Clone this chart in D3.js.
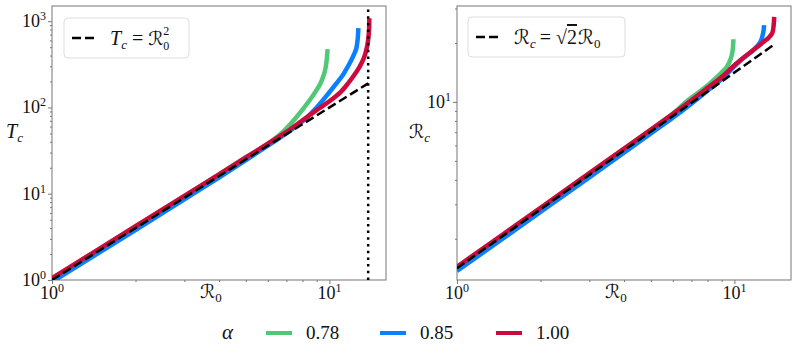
<!DOCTYPE html>
<html>
<head>
<meta charset="utf-8">
<script src="https://cdn.jsdelivr.net/npm/d3@7"></script>
<style>
  body { margin: 0; background: #fff; }
  text { font-family: "Liberation Serif", "DejaVu Serif", serif; fill: #111; }
</style>
</head>
<body>
<div id="chart"></div>
<script>
// values
const alphas = ["0.78", "0.85", "1.00"];
const colors = ["#50c878", "#0a80ff", "#cc0a3c"];

// left panel: T_c against R_0
const tR0_78 = [1, 2, 3, 4, 5, 5.7, 6.7, 7.6, 8.5, 9.0, 9.3, 9.55, 9.7, 9.8, 9.85];
const tVal_78 = [1.04, 4.15, 9.4, 16.8, 26.5, 34, 50, 77, 122, 160, 192, 240, 294, 380, 475];
const tR0_85 = [1, 2, 3, 4, 5, 6, 7, 8, 9, 10, 10.6, 11.2, 11.6, 12, 12.3, 12.5, 12.65, 12.72];
const tVal_85 = [0.95, 3.8, 8.6, 15.4, 24.5, 36, 50, 69, 100, 150, 190, 240, 290, 355, 420, 480, 620, 830];
const tR0_100 = [1, 2, 3, 4, 5, 6, 7, 8, 9, 10, 11, 11.6, 12.2, 12.8, 13.3, 13.6, 13.8, 13.9, 13.93];
const tVal_100 = [1.05, 4.2, 9.45, 16.8, 26.3, 38, 52, 71, 93, 118, 152, 185, 230, 290, 370, 470, 610, 800, 1080];

// right panel: R_c against R_0
const rR0_78 = [1, 2, 3, 4, 5, 6, 6.8, 7.5, 8.2, 8.8, 9.4, 9.7, 9.85, 9.92];
const rVal_78 = [1.43, 2.86, 4.3, 5.75, 7.2, 8.7, 10.2, 11.3, 12.5, 13.7, 15.1, 16.6, 18.2, 20.9];
const rR0_85 = [1, 2, 3, 4, 5, 6, 7, 8, 9, 10, 10.8, 11.7, 12.4, 12.7, 12.8];
const rVal_85 = [1.37, 2.74, 4.12, 5.5, 6.9, 8.3, 9.8, 11.4, 13.1, 15.2, 16.8, 18.4, 20.2, 22.5, 24.7];
const rR0_100 = [1, 2, 3, 4, 5, 6, 7, 8, 9, 10, 11, 11.7, 12.7, 13.3, 13.7, 13.85, 13.92];
const rVal_100 = [1.44, 2.88, 4.33, 5.77, 7.22, 8.7, 10.2, 11.8, 13.4, 15.4, 17.2, 18.4, 20.2, 21.3, 22.5, 24.5, 27.2];

// reference lines
const refR0 = [1, 13.8];
const refT = [1, 190.4];
const refRc = [1.414, 19.5];
const critR0 = 13.8;

const xTicks = [1, 10];
const tTicks = [1, 10, 100, 1000];
const rcTicks = [10];

const width = 797, height = 360;
const svg = d3.select('#chart').append('svg')
    .attr('width', width)
    .attr('height', height);

const zip = (xs, ys) => xs.map((v, i) => [v, ys[i]]);

function minorTicks(lo, hi) {
    const out = [];
    for (let p = Math.floor(Math.log10(lo)); p <= Math.ceil(Math.log10(hi)); p++) {
        for (let m = 2; m <= 9; m++) {
            const v = m * Math.pow(10, p);
            if (v > lo && v < hi) out.push(v);
        }
    }
    return out;
}

function powLabel(sel, exp) {
    sel.append('tspan').text('10');
    sel.append('tspan').attr('dy', -7).attr('font-size', 12).text(exp);
}

function drawPanel(opts) {
    const x = d3.scaleLog().domain([1, 16]).range([opts.left, opts.right]);
    const y = d3.scaleLog().domain(opts.yDomain).range([280, 6]);
    const g = svg.append('g');

    // ticks
    const tickCol = '#555';
    const xAxis = g.append('g').attr('transform', 'translate(0,280)');
    xAxis.call(d3.axisBottom(x).tickValues(xTicks).tickSize(4).tickFormat(''));
    xAxis.append('g').call(d3.axisBottom(x).tickValues(minorTicks(1, 16)).tickSize(2).tickFormat(''));
    const yAxis = g.append('g').attr('transform', `translate(${opts.left},0)`);
    yAxis.call(d3.axisLeft(y).tickValues(opts.yTicks).tickSize(4).tickFormat(''));
    yAxis.append('g').call(d3.axisLeft(y).tickValues(minorTicks(opts.yDomain[0], opts.yDomain[1])).tickSize(2).tickFormat(''));
    g.selectAll('.domain').remove();
    g.selectAll('.tick line').attr('stroke', tickCol).attr('stroke-width', 0.8);

    // tick labels
    xTicks.forEach(v => {
        const t = g.append('text').attr('x', x(v)).attr('y', 299)
            .attr('text-anchor', 'middle').attr('font-size', 18);
        powLabel(t, Math.round(Math.log10(v)));
    });
    opts.yTicks.forEach(v => {
        const t = g.append('text').attr('x', opts.left - 6).attr('y', y(v) + 6)
            .attr('text-anchor', 'end').attr('font-size', 18);
        powLabel(t, Math.round(Math.log10(v)));
    });

    // frame
    g.append('rect')
        .attr('x', opts.left).attr('y', 6)
        .attr('width', opts.right - opts.left).attr('height', 274)
        .attr('fill', 'none').attr('stroke', '#777').attr('stroke-width', 1);

    const line = d3.line()
        .x(d => x(d[0]))
        .y(d => y(d[1]))
        .curve(d3.curveCatmullRom.alpha(0.5));

    const clip = 'clip' + opts.left;
    g.append('clipPath').attr('id', clip).append('rect')
        .attr('x', opts.left).attr('y', 6)
        .attr('width', opts.right - opts.left).attr('height', 274);
    const plot = g.append('g').attr('clip-path', `url(#${clip})`);

    opts.series.forEach((s, i) => {
        plot.append('path')
            .attr('d', line(s))
            .attr('fill', 'none')
            .attr('stroke', colors[i])
            .attr('stroke-width', 4.5);
    });

    plot.append('path')
        .attr('d', d3.line().x(d => x(d[0])).y(d => y(d[1]))(opts.ref))
        .attr('fill', 'none')
        .attr('stroke', '#000')
        .attr('stroke-width', 2.5)
        .attr('stroke-dasharray', '9,4');

    if (opts.crit) {
        plot.append('line')
            .attr('x1', x(opts.crit)).attr('x2', x(opts.crit))
            .attr('y1', 280).attr('y2', 6)
            .attr('stroke', '#000')
            .attr('stroke-width', 2.5)
            .attr('stroke-dasharray', '2.5,4.2');
    }

    // axis labels
    g.append('text').attr('x', opts.left + 148).attr('y', 298).attr('font-size', 19)
        .call(t => {
            t.append('tspan').attr('font-family', 'DejaVu Sans').attr('font-size', 19).text('ℛ');
            t.append('tspan').attr('dy', 4).attr('font-size', 13).text('0');
        });
    g.append('text').attr('x', opts.yLabelX).attr('y', 138).attr('font-size', 20)
        .call(opts.yLabel);

    // legend
    const lg = g.append('g').attr('transform', `translate(${opts.legend[0]},${opts.legend[1]})`);
    lg.append('rect')
        .attr('width', opts.legend[2]).attr('height', 40)
        .attr('rx', 4)
        .attr('fill', '#fff').attr('stroke', '#ddd').attr('stroke-width', 1);
    lg.append('line')
        .attr('x1', 8).attr('x2', 32).attr('y1', 20).attr('y2', 20)
        .attr('stroke', '#000').attr('stroke-width', 2.5)
        .attr('stroke-dasharray', '9,4');
    lg.append('text').attr('x', 46).attr('y', 27).attr('font-size', 20)
        .call(opts.legendText);
}

drawPanel({
    left: 52, right: 386,
    yDomain: [1, 1500],
    yTicks: tTicks,
    series: [zip(tR0_78, tVal_78), zip(tR0_85, tVal_85), zip(tR0_100, tVal_100)],
    ref: zip(refR0, refT),
    crit: critR0,
    yLabelX: 6,
    yLabel: t => {
        t.append('tspan').attr('font-style', 'italic').text('T');
        t.append('tspan').attr('dy', 4).attr('font-size', 13).attr('font-style', 'italic').text('c');
    },
    legend: [64, 18, 125],
    legendText: t => {
        t.append('tspan').attr('font-style', 'italic').text('T');
        t.append('tspan').attr('dy', 4).attr('font-size', 13).attr('font-style', 'italic').text('c');
        t.append('tspan').attr('dy', -4).text(' = ');
        t.append('tspan').attr('font-family', 'DejaVu Sans').attr('font-size', 19).text('ℛ');
        t.append('tspan').attr('dy', 5).attr('font-size', 12).text('0');
        t.append('tspan').attr('dx', -6).attr('dy', -15).attr('font-size', 12).text('2');
    }
});

drawPanel({
    left: 457, right: 791,
    yDomain: [1.232, 30.9],
    yTicks: rcTicks,
    series: [zip(rR0_78, rVal_78), zip(rR0_85, rVal_85), zip(rR0_100, rVal_100)],
    ref: zip(refR0, refRc),
    crit: null,
    yLabelX: 409,
    yLabel: t => {
        t.append('tspan').attr('font-family', 'DejaVu Sans').attr('font-size', 19).text('ℛ');
        t.append('tspan').attr('dy', 4).attr('font-size', 13).attr('font-style', 'italic').text('c');
    },
    legend: [468, 17, 157],
    legendText: t => {
        t.append('tspan').attr('font-family', 'DejaVu Sans').attr('font-size', 20).text('ℛ');
        t.append('tspan').attr('dy', 4).attr('font-size', 13).attr('font-style', 'italic').text('c');
        t.append('tspan').attr('dx', 4).attr('dy', -4).text('=');
        t.append('tspan').attr('dx', 5).text('√');
        t.append('tspan').attr('text-decoration', 'overline').text('2');
        t.append('tspan').attr('dx', 1).attr('font-family', 'DejaVu Sans').attr('font-size', 20).text('ℛ');
        t.append('tspan').attr('dy', 4).attr('font-size', 13).text('0');
    }
});

// bottom legend for alpha
const leg = svg.append('g');
leg.append('text').attr('x', 222).attr('y', 339).attr('font-size', 21)
    .attr('font-style', 'italic').text('α');
const legX = [266, 380, 496];
alphas.forEach((a, i) => {
    leg.append('line')
        .attr('x1', legX[i]).attr('x2', legX[i] + 26)
        .attr('y1', 333).attr('y2', 333)
        .attr('stroke', colors[i]).attr('stroke-width', 4);
    leg.append('text').attr('x', legX[i] + 40).attr('y', 339)
        .attr('font-size', 19).text(a);
});
</script>
</body>
</html>
